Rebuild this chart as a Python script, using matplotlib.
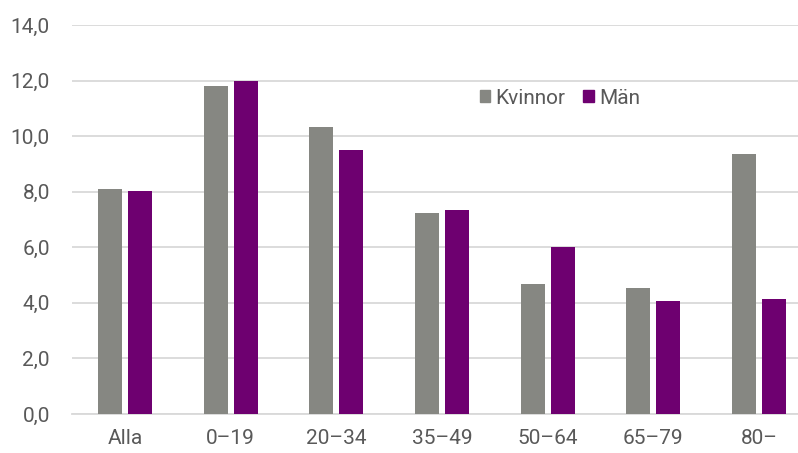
import numpy as np
import matplotlib
matplotlib.use("Agg")
import matplotlib.pyplot as plt
import matplotlib.patches as mpatches
from matplotlib.ticker import FuncFormatter, MultipleLocator

# Data
categories = ["Alla", "0–19", "20–34", "35–49", "50–64", "65–79", "80–"]
kvinnor = [8.09, 11.80, 10.33, 7.23, 4.68, 4.53, 9.36]
man = [8.02, 11.99, 9.50, 7.34, 6.01, 4.07, 4.15]

COL_K = "#868782"
COL_M = "#6E0070"
TXT = "#595959"
GRID = "#D9D9D9"

plt.rcParams["font.family"] = ["Roboto", "DejaVu Sans"]

fig = plt.figure(figsize=(7.98, 4.53), dpi=100)
ax = fig.add_axes([72 / 798, 1 - 414 / 453, 1 - 72 / 798, (414 - 25) / 453])

x = np.arange(len(categories))
w = 0.227
off = 0.142
ax.bar(x - off, kvinnor, width=w, color=COL_K, zorder=3)
ax.bar(x + off, man, width=w, color=COL_M, zorder=3)

ax.set_ylim(0, 14)
ax.set_xlim(-0.5, 6.37)
ax.yaxis.set_major_locator(MultipleLocator(2))
ax.yaxis.set_major_formatter(FuncFormatter(lambda v, p: f"{v:.1f}".replace(".", ",")))
ax.grid(axis="y", color=GRID, linewidth=1.3, zorder=0)
ax.set_axisbelow(True)

ax.set_xticks(x)
ax.set_xticklabels(categories)
ax.tick_params(axis="y", length=0, pad=16, labelsize=15, labelcolor=TXT)
ax.tick_params(axis="x", length=0, pad=11, labelsize=15, labelcolor=TXT)

for s in ["top", "right", "left"]:
    ax.spines[s].set_visible(False)
ax.spines["bottom"].set_color(GRID)
ax.spines["bottom"].set_linewidth(1.3)

handles = [mpatches.Patch(color=COL_K, label="Kvinnor"),
           mpatches.Patch(color=COL_M, label="Män")]
ax.legend(handles=handles, loc="center", bbox_to_anchor=((560 - 72) / 726, (414 - 98) / 389),
          ncol=2, frameon=False, fontsize=15, labelcolor=TXT,
          handlelength=0.5, handleheight=0.5, handletextpad=0.25, columnspacing=0.85)

fig.savefig("out.png", dpi=100, facecolor="white")
